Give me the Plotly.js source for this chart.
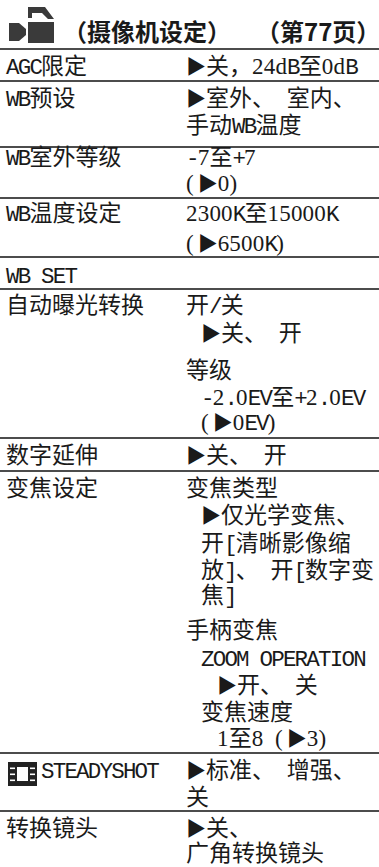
<!DOCTYPE html>
<html><head><meta charset="utf-8">
<script src="https://cdn.plot.ly/plotly-3.0.1.min.js"></script>
<style>html,body{margin:0;padding:0;background:#fff}</style>
</head><body><div id="chart" style="width:379px;height:867px"></div>
<script>
// ---- table content ----
var titleLeft = '（摄像机设定）';
var titleRight = '（第77页）';
var settingNames = ['AGC限定','WB预设','WB室外等级','WB温度设定','WB SET','自动曝光转换','数字延伸','变焦设定','STEADYSHOT','转换镜头'];
var settingValues = [
  ['▶关，24dB至0dB'],
  ['▶室外、 室内、','手动WB温度'],
  ['-7至+7','(▶0)'],
  ['2300K至15000K','(▶6500K)'],
  [],
  ['开/关','▶关、 开','等级','-2.0EV至+2.0EV','(▶0EV)'],
  ['▶关、 开'],
  ['变焦类型','▶仅光学变焦、','开[清晰影像缩','放]、 开[数字变','焦]','手柄变焦','ZOOM OPERATION','▶开、 关','变焦速度','1至8 (▶3)'],
  ['▶标准、 增强、','关'],
  ['▶关、','广角转换镜头']
];
// ---- layout constants ----
var ruleY = [49,81,147,198,257,289,438,471,753,811];
var nameY = [68,100,159,215,277,307,457,490,772,830];
var valueY = [[68],[100,127],[159,185],[215,245],[],[307,335,372,399,424],[457],
  [490,517,545,572,597,632,660,687,714,740],[772,799],[830,855]];
var valueIndent = {5:[0,15,0,15,15],7:[0,15,15,15,15,0,15,31,15,31]};
var nameX = 6, valueX = 186;
var CJK = '"Noto Sans CJK SC"';
function fmt(s){
  return s.replace(/[0-9d]+|[()]|▶|[^\u0080-\uFFFF0-9d()]+/g,function(m){
    if(m==='▶') return '<span style="font-size:20px">▶</span>';
    if(m==='('||m===')') return "<span style=\"font-family:'Liberation Serif';font-size:23px;letter-spacing:4px\">"+m+'</span>';
    if(/^[0-9d]/.test(m)) return "<span style=\"font-family:'Liberation Serif';font-size:23px;letter-spacing:.2px\">"+m+'</span>';
    return "<span style=\"font-family:'Liberation Mono';font-size:22.5px;letter-spacing:-1.8px\">"+m+'</span>';
  });
}
var tx=[],ty=[],tt=[];
settingNames.forEach(function(n,i){
  tx.push(i===8?41:nameX);ty.push(nameY[i]);tt.push(fmt(n));
  settingValues[i].forEach(function(v,j){
    var ind = valueIndent[i]?valueIndent[i][j]:0;
    tx.push(valueX+ind);ty.push(valueY[i][j]);tt.push(fmt(v));
  });
});
var bodyTrace={type:'scatter',mode:'text',x:tx,y:ty,text:tt,textposition:'middle right',hoverinfo:'skip',showlegend:false,cliponaxis:false,
  textfont:{family:CJK,size:23,color:'#1a1a1a'}};
var titleTrace={type:'scatter',mode:'text',x:[63,256],y:[35,35],text:['<b>'+titleLeft+'</b>','<b>'+titleRight+'</b>'],textposition:'middle right',hoverinfo:'skip',showlegend:false,cliponaxis:false,
  textfont:{family:CJK,size:24,color:'#1a1a1a'}};
var shapes = [];
function rect(x0,y0,x1,y1,c){shapes.push({type:'rect',xref:'x',yref:'y',x0:x0,y0:y0,x1:x1,y1:y1,fillcolor:c,line:{width:0}});}
function path(p,c){shapes.push({type:'path',xref:'x',yref:'y',path:p,fillcolor:c,line:{width:0}});}
// camera icon
rect(28,22,54,43,'#3a3a3a');
path('M9,23 L19,23 L26,29 L26,35 L19,41 L9,41 Z','#3a3a3a');
path('M28,7 L45,7 L54,19 L48,19 L42,13 L32,13 L32,18 L28,18 Z','#3a3a3a');
// film icon
rect(8,762,37,786,'#222');
rect(17,767,28,781,'#fff');
[767.5,773.5,779.5].forEach(function(y){rect(10,y,15,y+1.6,'#fff');rect(30,y,35,y+1.6,'#fff');});
// rules
var ruleTrace = {type:'scatter',mode:'lines',hoverinfo:'skip',showlegend:false,line:{color:'#111',width:1.4},x:[],y:[]};
ruleY.forEach(function(y){ruleTrace.x.push(0,379,null);ruleTrace.y.push(y,y,null);});
Plotly.newPlot('chart',[ruleTrace,bodyTrace,titleTrace],{
  width:379,height:867,margin:{l:0,r:0,t:0,b:0},paper_bgcolor:'#fff',plot_bgcolor:'#fff',showlegend:false,
  xaxis:{range:[0,379],visible:false,fixedrange:true},
  yaxis:{range:[867,0],visible:false,fixedrange:true},
  shapes:shapes
},{displayModeBar:false,staticPlot:true});
</script></body></html>
